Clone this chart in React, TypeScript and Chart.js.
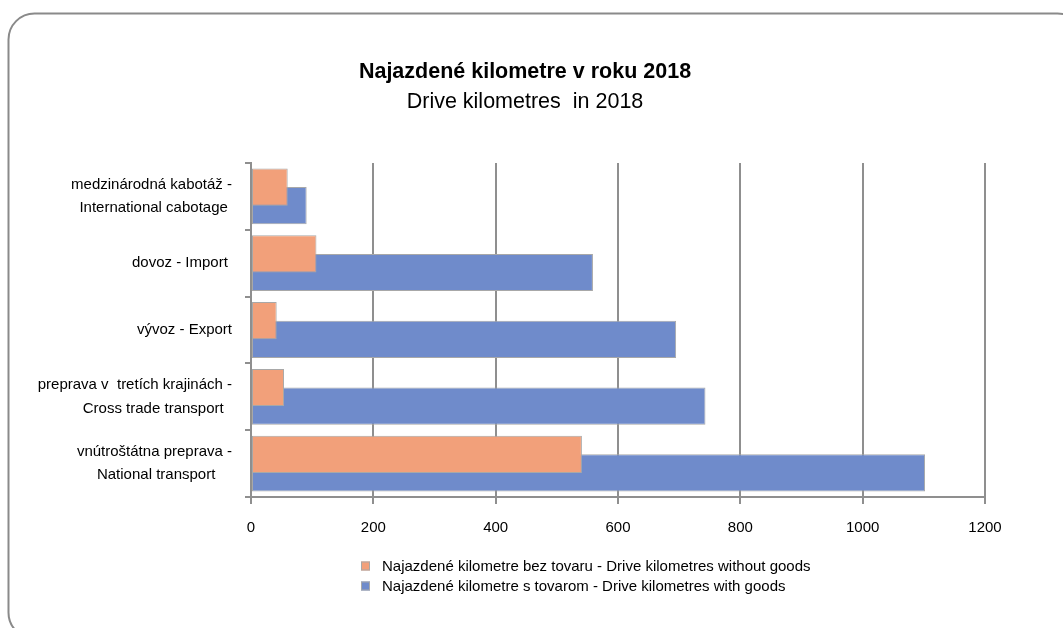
import React, { useEffect, useRef } from 'react';
import { Chart, registerables } from 'chart.js';

Chart.register(...registerables);

const FONT = "'Liberation Sans', Arial, sans-serif";

const categories: string[][] = [
  ['medzinárodná kabotáž -', 'International cabotage '],
  ['dovoz - Import '],
  ['vývoz - Export'],
  ['preprava v  tretích krajinách -', 'Cross trade transport  '],
  ['vnútroštátna preprava -', 'National transport    '],
];

const withoutGoods = [60, 107, 42, 54, 541];
const withGoods = [91, 559, 695, 743, 1102];

const seriesLabels = [
  'Najazdené kilometre bez tovaru - Drive kilometres without goods',
  'Najazdené kilometre s tovarom - Drive kilometres with goods',
];
const seriesColors = ['#F2A07A', '#6F8BCB'];

const titleText = 'Najazdené kilometre v roku 2018';
const subtitleText = 'Drive kilometres  in 2018';

const xMin = 0;
const xMax = 1200;
const xStep = 200;

const framePlugin = {
  id: 'frame',
  beforeDraw(chart: any) {
    const ctx = chart.ctx;
    ctx.save();
    ctx.fillStyle = '#ffffff';
    ctx.fillRect(0, 0, chart.width, chart.height);
    ctx.strokeStyle = '#8a8a8a';
    ctx.lineWidth = 2;
    ctx.beginPath();
    ctx.roundRect(8.5, 13.5, 1075, 625, 26);
    ctx.stroke();
    ctx.restore();
  },
};

const legendPlugin = {
  id: 'stackedLegend',
  afterDraw(chart: any) {
    const ctx = chart.ctx;
    ctx.save();
    chart.data.datasets.forEach((ds: any, i: number) => {
      const y = 566 + i * 20;
      ctx.fillStyle = ds.backgroundColor;
      ctx.fillRect(361, y - 4.5, 9, 9);
      ctx.strokeStyle = '#a8a8a8';
      ctx.lineWidth = 1;
      ctx.strokeRect(361.5, y - 4, 8, 8);
      ctx.fillStyle = '#000000';
      ctx.font = `15px ${FONT}`;
      ctx.textBaseline = 'middle';
      ctx.textAlign = 'left';
      ctx.fillText(ds.label, 382, y + 0.5);
    });
    ctx.restore();
  },
};

export default function App() {
  const canvasRef = useRef<HTMLCanvasElement | null>(null);

  useEffect(() => {
    if (!canvasRef.current) return;
    const chart = new Chart(canvasRef.current, {
      type: 'bar',
      data: {
        labels: categories,
        datasets: [
          {
            label: seriesLabels[0],
            data: withoutGoods,
            backgroundColor: seriesColors[0],
            borderColor: '#a8a8a8',
            borderWidth: 1,
            borderSkipped: false,
          },
          {
            label: seriesLabels[1],
            data: withGoods,
            backgroundColor: seriesColors[1],
            borderColor: '#a8a8a8',
            borderWidth: 1,
            borderSkipped: false,
          },
        ],
      },
      options: {
        indexAxis: 'y',
        responsive: false,
        animation: false,
        categoryPercentage: 0.557,
        barPercentage: 2.0,
        layout: { padding: { top: 0, right: 13, bottom: 0, left: 0 } },
        plugins: {
          legend: { display: false },
          tooltip: { enabled: false },
          title: {
            display: true,
            text: titleText,
            color: '#000000',
            font: { family: FONT, size: 21.5, weight: 'bold', lineHeight: 1.2 },
            padding: { top: 59, bottom: 0 },
          },
          subtitle: {
            display: true,
            text: subtitleText,
            color: '#000000',
            font: { family: FONT, size: 21.5, weight: 'normal', lineHeight: 1.2 },
            padding: { top: 4, bottom: 48.4 },
          },
        },
        scales: {
          x: {
            type: 'linear',
            min: xMin,
            max: xMax,
            ticks: {
              stepSize: xStep,
              color: '#000000',
              font: { family: FONT, size: 15 },
              padding: 15,
              callback: (v: any) => String(v),
            },
            grid: { color: '#8f8f8f', lineWidth: 2, tickLength: 7 },
            border: { color: '#8f8f8f', width: 2 },
            afterFit(scale: any) {
              scale.height = 131;
            },
          },
          y: {
            type: 'category',
            position: 'left',
            ticks: {
              color: '#000000',
              font: { family: FONT, size: 15, lineHeight: 1.55 },
              padding: 13,
            },
            grid: { drawOnChartArea: false, tickLength: 6, color: '#8f8f8f', lineWidth: 2, offset: true },
            border: { color: '#8f8f8f', width: 2 },
            afterFit(scale: any) {
              scale.width = 251;
            },
          },
          spacer: {
            type: 'linear',
            position: 'right',
            display: true,
            ticks: { display: false },
            grid: { display: false, drawTicks: false },
            border: { display: false },
            afterFit(scale: any) {
              scale.width = 65;
            },
          },
        },
      },
      plugins: [framePlugin, legendPlugin],
    });
    return () => chart.destroy();
  }, []);

  return (
    <div style={{ position: 'fixed', left: 0, top: 0, width: 1063, height: 628 }}>
      <canvas ref={canvasRef} width={1063} height={628} style={{ display: 'block' }} />
    </div>
  );
}
